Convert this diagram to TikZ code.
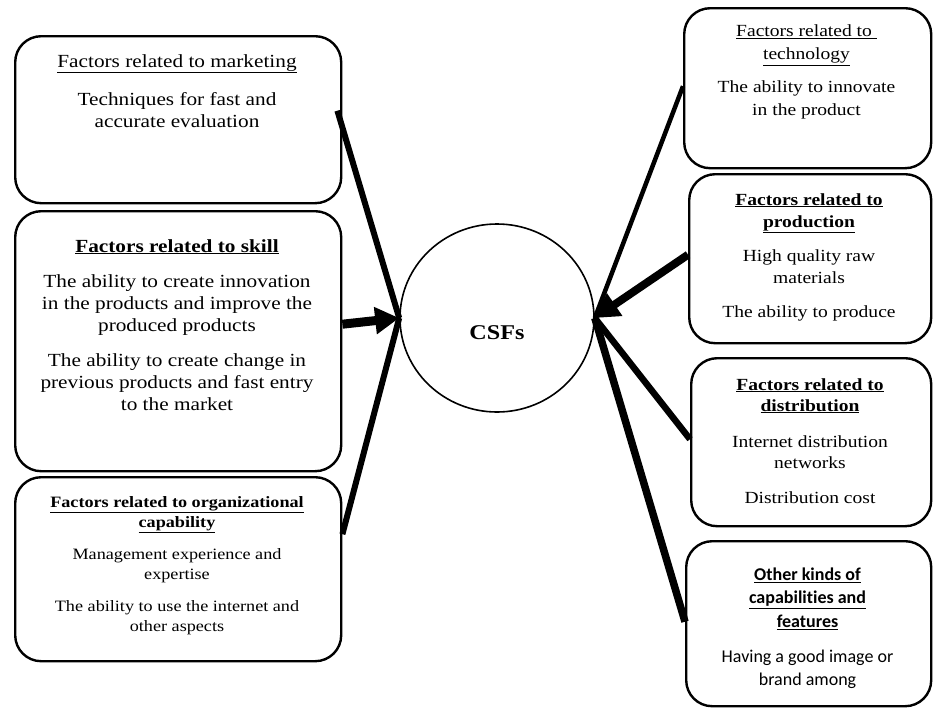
\documentclass[tikz,border=0pt]{standalone}
\usepackage{fontspec}
\setmainfont[FakeStretch=1.15]{Liberation Serif}
\newfontfamily\calib[Ligatures=NoCommon]{Carlito}
\usetikzlibrary{shapes.geometric,arrows.meta,calc}
\begin{document}
\begin{tikzpicture}[x=1pt,y=-1pt,
  box/.style={draw, line width=2.4pt, rounded corners=26pt, anchor=north west, inner sep=0pt},
  txt/.style={anchor=north, align=center, inner sep=0pt},
  conn/.style={line width=#1},
  tip/.style={-{Triangle[length=24pt,width=26pt]}},
]
\useasboundingbox (0,0) rectangle (933,707);
% boxes
\node[box, minimum width=326pt, minimum height=167pt] (mk) at (14,35) {};
\node[box, minimum width=326pt, minimum height=260pt] (sk) at (14,210) {};
\node[box, minimum width=326pt, minimum height=184pt] (org) at (14,476) {};
\node[box, minimum width=247pt, minimum height=160pt] (tech) at (683,7) {};
\node[box, minimum width=242pt, minimum height=169pt] (prod) at (688,173) {};
\node[box, minimum width=240pt, minimum height=168pt] (dist) at (690,357) {};
\node[box, minimum width=245pt, minimum height=165pt] (oth) at (685,540) {};
% texts
\node[txt, font=\fontsize{18.5}{21.5}\selectfont] (mkt) at (177,54)
  {\underline{Factors related to marketing}\\[17pt]Techniques for fast and\\accurate evaluation};
\node[txt, font=\fontsize{18.5}{22}\selectfont] (skt) at (177,239)
  {\textbf{\underline{Factors related to skill}}\\[13pt]The ability to create innovation\\in the products and improve the\\produced products\\[13pt]The ability to create change in\\previous products and fast entry\\to the market};
\node[txt, font=\fontsize{15.8}{20}\selectfont] (orgt) at (177,496)
  {\textbf{\underline{Factors related to organizational}}\\\textbf{\underline{capability}}\\[12pt]Management experience and\\expertise\\[12pt]The ability to use the internet and\\other aspects};
\node[txt, font=\fontsize{17}{23}\selectfont] (techt) at (806.5,25)
  {\underline{Factors related to }\\\underline{technology}\\[10pt]The ability to innovate\\in the product};
\node[txt, font=\fontsize{17}{22}\selectfont] (prodt) at (809,193)
  {\textbf{\underline{Factors related to}}\\\textbf{\underline{production}}\\[12pt]High quality raw\\materials\\[12pt]The ability to produce};
\node[txt, font=\fontsize{17}{21}\selectfont] (distt) at (810,378)
  {\textbf{\underline{Factors related to}}\\\textbf{\underline{distribution}}\\[15pt]Internet distribution\\networks\\[14pt]Distribution cost};
\node[txt, font=\calib\fontsize{18}{23.5}\selectfont] (otht) at (807.5,567.5)
  {\textbf{\underline{Other kinds of}}\\\textbf{\underline{capabilities and}}\\\textbf{\underline{features}}\\[11.5pt]Having a good image or\\brand among};
% centre
\node[draw, ellipse, line width=1.6pt, minimum width=194pt, minimum height=188pt, inner sep=0pt,
  text height=42pt, text depth=0pt, font=\fontsize{21}{25}\selectfont\bfseries] (c) at (497,318) {CSFs};
% connectors
\draw[conn=6pt] ($(mk.east)+(-5,-9)$) -- (c.west);
\draw[conn=9pt, tip] ($(sk.east)+(0,-17)$) -- (c.west);
\draw[conn=6pt] ($(org.east)+(0,-35)$) -- (c.west);
\draw[conn=4.5pt] ($(tech.west)+(0,-2)$) -- (c.east);
\draw[conn=8pt, tip] ($(prod.west)+(0,-4)$) -- (c.east);
\draw[conn=6.5pt] ($(dist.west)+(0,-3)$) -- (c.east);
\draw[conn=7.5pt] ($(oth.west)+(0,-2)$) -- (c.east);
\end{tikzpicture}
\end{document}
